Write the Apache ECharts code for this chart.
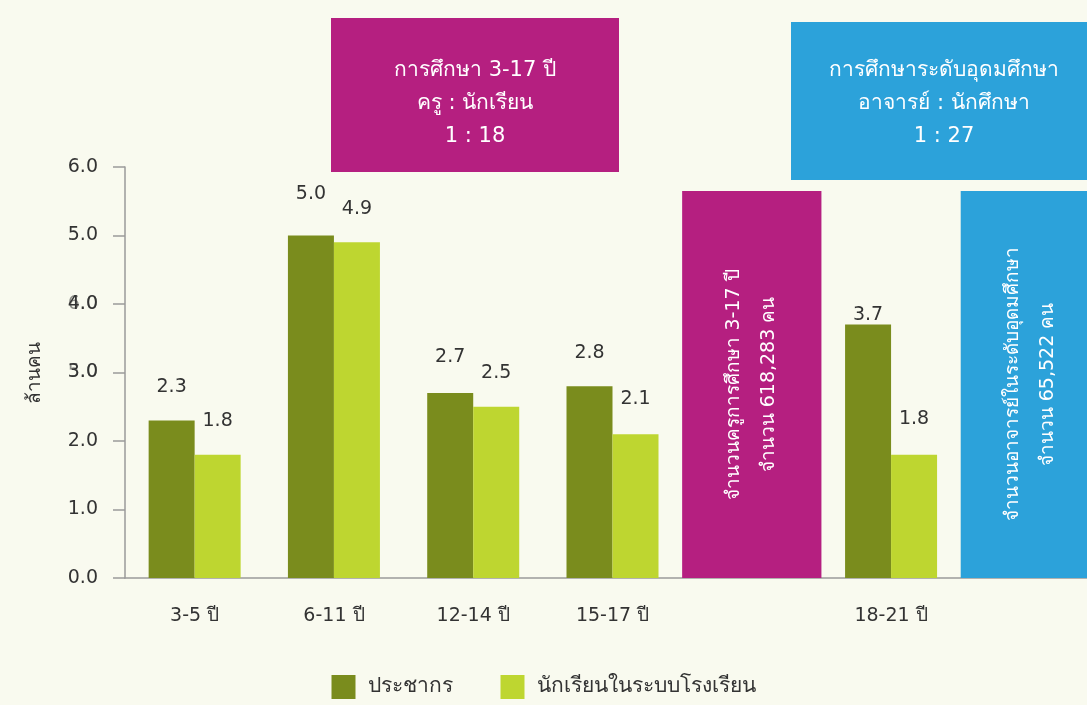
<!DOCTYPE html>
<html>
<head>
<meta charset="utf-8">
<script src="https://cdn.jsdelivr.net/npm/echarts@6/dist/echarts.min.js"></script>
<style>
html,body{margin:0;padding:0;background:#f9faef;}
#c{width:1087px;height:705px;}
</style>
</head>
<body>
<div id="c"></div>
<script>
const categories = ['3-5 ปี', '6-11 ปี', '12-14 ปี', '15-17 ปี', '', '18-21 ปี', ''];
const population = [2.3, 5.0, 2.7, 2.8, null, 3.7, null];
const students = [1.8, 4.9, 2.5, 2.1, null, 1.8, null];
const staffBars = [null, null, null, null, 5.65, null, 5.65];
const staffLabels = ['', '', '', '', 'จำนวนครูการศึกษา 3-17 ปี\nจำนวน 618,283 คน', '', 'จำนวนอาจารย์ในระดับอุดมศึกษา\nจำนวน 65,522 คน'];
const staffColors = ['', '', '', '', '#b51f80', '', '#2ca2da'];
const seriesNames = ['ประชากร', 'นักเรียนในระบบโรงเรียน'];
const yTicks = ['0.0', '1.0', '2.0', '3.0', '4.0', '5.0', '6.0'];
// stray overlapping tick labels visible in the original artwork
const ghostTicks = ['', '', '', '5.0', '6.0', '', ''];
const boxTexts = ['การศึกษา 3-17 ปี\nครู : นักเรียน\n1 : 18', 'การศึกษาระดับอุดมศึกษา\nอาจารย์ : นักศึกษา\n1 : 27'];
// label distance tweaks per bar, as in the original artwork
const popLabelDist = [24, 32, 26, 24, 0, 0, 0];
const stuLabelDist = [24, 24, 24, 26, 0, 26, 0];

const FONT = '"DejaVu Sans", "Noto Sans", sans-serif';
const chart = echarts.init(document.getElementById('c'));
function withLabels(vals, dists) {
  return vals.map((v, i) => v == null ? null : ({value: v, label: {distance: dists[i]}}));
}
chart.setOption({
  backgroundColor: '#f9faef',
  textStyle: {fontFamily: FONT},
  animation: false,
  grid: {left: 125, width: 975, top: 167, bottom: 127, outerBoundsMode: 'none', containLabel: false},
  legend: {
    bottom: 1, left: 'center', itemWidth: 24, itemHeight: 24, itemGap: 48,
    icon: 'rect',
    data: seriesNames,
    textStyle: {fontSize: 21, color: '#333', fontFamily: FONT, padding: [0, 0, 0, 7]}
  },
  xAxis: [{
    type: 'category', data: categories,
    axisLine: {lineStyle: {color: '#9a9a9a', width: 1.5}},
    axisTick: {length: 14, lineStyle: {color: '#9a9a9a', width: 1.5}},
    axisLabel: {fontSize: 19, color: '#333', margin: 29, fontFamily: FONT}
  }, {
    type: 'category', data: categories, show: false
  }],
  yAxis: [{
    type: 'value', min: 0, max: 6, interval: 1,
    name: 'ล้านคน', nameLocation: 'middle', nameGap: 80,
    nameTextStyle: {fontSize: 19, color: '#333', fontFamily: FONT},
    axisLine: {show: true, lineStyle: {color: '#9a9a9a', width: 1.5}},
    axisTick: {show: true, length: 12, lineStyle: {color: '#9a9a9a', width: 1.5}},
    splitLine: {show: false},
    axisLabel: {fontSize: 19, color: '#333', margin: 27, fontFamily: FONT,
      formatter: (v) => yTicks[Math.round(v)]}
  }, {
    type: 'value', min: 0, max: 6, interval: 1, position: 'right', offset: -975,
    axisLine: {show: false}, axisTick: {show: false}, splitLine: {show: false},
    axisLabel: {inside: true, fontSize: 19, color: 'rgba(51,51,51,0.55)', margin: 27, fontFamily: FONT,
      formatter: (v) => ghostTicks[Math.round(v)]}
  }],
  series: [{
    name: seriesNames[0], type: 'bar', data: withLabels(population, popLabelDist),
    barWidth: 46, barGap: '0%',
    itemStyle: {color: '#7a8c1d'},
    label: {show: true, position: 'top', fontSize: 19, color: '#333',
      fontFamily: FONT, formatter: (p) => p.value.toFixed(1)}
  }, {
    name: seriesNames[1], type: 'bar', data: withLabels(students, stuLabelDist),
    barWidth: 46, barGap: '0%',
    itemStyle: {color: '#bed630'},
    label: {show: true, position: 'top', fontSize: 19, color: '#333',
      fontFamily: FONT, formatter: (p) => p.value.toFixed(1)}
  }, {
    name: 'staff', type: 'bar', xAxisIndex: 1, barWidth: '100%',
    data: staffBars.map((v, i) => v == null ? null : ({
      value: v,
      itemStyle: {color: staffColors[i]},
      label: {formatter: staffLabels[i]}
    })),
    label: {show: true, position: 'inside', rotate: 90, fontSize: 19,
      color: '#fff', lineHeight: 35, align: 'center', verticalAlign: 'middle', fontFamily: FONT}
  }],
  graphic: [{
    type: 'group', left: 331, top: 18,
    children: [{
      type: 'rect', shape: {x: 0, y: 0, width: 288, height: 154},
      style: {fill: '#b51f80'}
    }, {
      type: 'text', x: 144, y: 86,
      style: {text: boxTexts[0], fill: '#fff', fontSize: 21, fontFamily: FONT,
        align: 'center', verticalAlign: 'middle', lineHeight: 33}
    }]
  }, {
    type: 'group', left: 791, top: 22,
    children: [{
      type: 'rect', shape: {x: 0, y: 0, width: 296, height: 158},
      style: {fill: '#2ca2da'}
    }, {
      type: 'text', x: 153, y: 82,
      style: {text: boxTexts[1], fill: '#fff', fontSize: 21, fontFamily: FONT,
        align: 'center', verticalAlign: 'middle', lineHeight: 33}
    }]
  }]
});
</script>
</body>
</html>
